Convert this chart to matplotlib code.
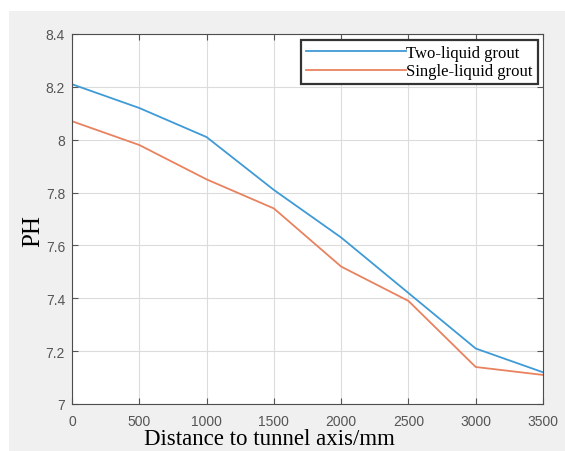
import matplotlib
matplotlib.use("Agg")
import matplotlib.pyplot as plt
from matplotlib.patches import Rectangle

# distance to tunnel axis (mm) and measured PH
distance = [0, 500, 1000, 1500, 2000, 2500, 3000, 3500]
ph_two_liquid = [8.21, 8.12, 8.01, 7.81, 7.63, 7.42, 7.21, 7.12]
ph_single_liquid = [8.07, 7.98, 7.85, 7.74, 7.52, 7.39, 7.14, 7.11]
series_labels = ["Two-liquid grout", "Single-liquid grout"]
x_ticks = [0, 500, 1000, 1500, 2000, 2500, 3000, 3500]
y_ticks = [7, 7.2, 7.4, 7.6, 7.8, 8, 8.2, 8.4]
y_tick_labels = ["7", "7.2", "7.4", "7.6", "7.8", "8", "8.2", "8.4"]

serif = ["Liberation Serif", "DejaVu Serif"]
sans = ["Liberation Sans", "DejaVu Sans"]

fig = plt.figure(figsize=(5.65, 4.52), dpi=100)
fig.patch.set_facecolor("white")
# grey MATLAB-style figure background (screenshot starts a little inside)
fig.patches.append(Rectangle((9 / 565, 0), 1, (452 - 12) / 452,
                             transform=fig.transFigure, facecolor="#f0f0f0",
                             edgecolor="none", zorder=-10))

ax = fig.add_axes([72 / 565, (452 - 405) / 452, (543 - 72) / 565, (405 - 35) / 452])
ax.set_facecolor("white")

ax.plot(distance, ph_two_liquid, color="#3f9ad6", lw=1.3, label=series_labels[0])
ax.plot(distance, ph_single_liquid, color="#e8825f", lw=1.3, label=series_labels[1])

ax.set_xlim(0, 3500)
ax.set_ylim(7, 8.4)
ax.set_xticks(x_ticks)
ax.set_yticks(y_ticks)
ax.set_yticklabels(y_tick_labels)
ax.grid(True, color="#dcdcdc", lw=0.8)
ax.set_axisbelow(True)

ax.tick_params(direction="in", top=True, right=True, length=4, width=0.8,
               colors="#555555", labelsize=10)
ax.tick_params(axis="x", pad=7)
ax.tick_params(axis="y", pad=5)
for lbl in ax.get_xticklabels() + ax.get_yticklabels():
    lbl.set_family(sans)
for sp in ax.spines.values():
    sp.set_color("#4d4d4d")
    sp.set_linewidth(0.8)

ax.set_ylabel("PH", family=serif, fontsize=18, color="black")
ax.yaxis.set_label_coords(-0.06, 0.47)
ax.set_xlabel("Distance to tunnel axis/mm", family=serif, fontsize=16.5,
              color="black")
ax.xaxis.set_label_coords(0.42, -0.064)

leg = ax.legend(loc="upper right", bbox_to_anchor=(0.989, 0.984), borderaxespad=0,
                prop={"family": serif, "size": 12}, handlelength=6.0,
                handletextpad=0.0, labelspacing=0.15, borderpad=0.3,
                fancybox=False, framealpha=1)
leg.get_frame().set_edgecolor("#333333")
leg.get_frame().set_linewidth(1.6)

fig.savefig("out.png", dpi=100)
